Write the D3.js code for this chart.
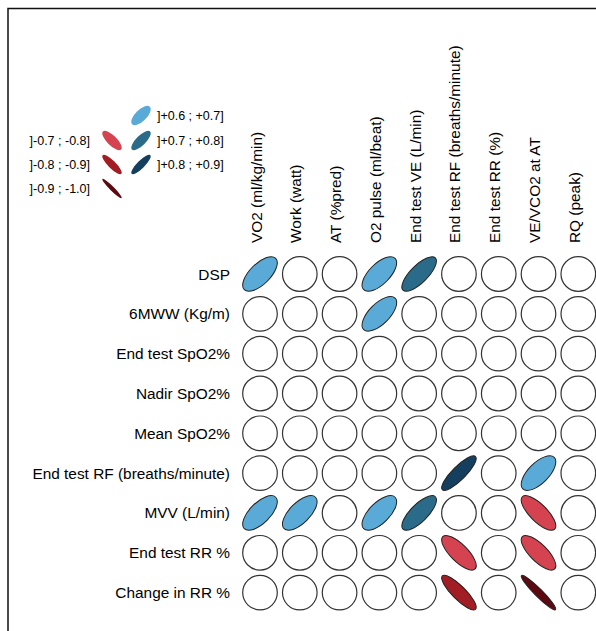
<!DOCTYPE html>
<html lang="en">
<head>
    <meta charset="UTF-8">
    <title>Correlation ellipse matrix</title>
    <script src="https://cdnjs.cloudflare.com/ajax/libs/d3/7.8.5/d3.min.js"></script>
    <style>
        body {
            margin: 0;
            background: #fff;
            font-family: "Liberation Sans", Arial, sans-serif;
        }
        .lab { font-size: 15.4px; fill: #000; }
        .leg { font-size: 12.5px; fill: #000; }
    </style>
</head>
<body>
    <div id="chart"></div>

    <script>
        // Row and column variables
        const rows = ["DSP", "6MWW (Kg/m)", "End test SpO2%", "Nadir SpO2%", "Mean SpO2%",
            "End test RF (breaths/minute)", "MVV (L/min)", "End test RR %", "Change in RR %"];
        const cols = ["VO2 (ml/kg/min)", "Work (watt)", "AT (%pred)", "O2 pulse (ml/beat)",
            "End test VE (L/min)", "End test RF (breaths/minute)", "End test RR (%)",
            "VE/VCO2 at AT", "RQ (peak)"];

        // Correlations shown (0 = blank circle)
        const values = [
            [0.65, 0, 0, 0.65, 0.75, 0, 0, 0, 0],
            [0, 0, 0, 0.65, 0, 0, 0, 0, 0],
            [0, 0, 0, 0, 0, 0, 0, 0, 0],
            [0, 0, 0, 0, 0, 0, 0, 0, 0],
            [0, 0, 0, 0, 0, 0, 0, 0, 0],
            [0, 0, 0, 0, 0, 0.85, 0, 0.65, 0],
            [0.65, 0.65, 0, 0.65, 0.75, 0, 0, -0.75, 0],
            [0, 0, 0, 0, 0, -0.75, 0, -0.75, 0],
            [0, 0, 0, 0, 0, -0.85, 0, -0.95, 0]
        ];

        // Legend bins
        const binLabels = ["]-0.9 ; -1.0]", "]-0.8 ; -0.9]", "]-0.7 ; -0.8]",
            "]+0.6 ; +0.7]", "]+0.7 ; +0.8]", "]+0.8 ; +0.9]"];
        const binValues = [-0.95, -0.85, -0.75, 0.65, 0.75, 0.85];
        const binColors = ["#5c0a10", "#a31d24", "#d4434f", "#5aaad7", "#2a6b89", "#153f5f"];

        const width = 596, height = 631;
        const svg = d3.select("#chart").append("svg")
            .attr("width", width)
            .attr("height", height);

        // frame
        svg.append("rect")
            .attr("x", 8).attr("y", 8.5)
            .attr("width", 700).attr("height", 700)
            .attr("fill", "none")
            .attr("stroke", "#111")
            .attr("stroke-width", 1.5);

        const x = d3.scalePoint().domain(cols).range([260, 578.3]);
        const y = d3.scalePoint().domain(rows).range([274, 592.6]);
        const R = 17.3;

        const color = d3.scaleThreshold()
            .domain([-0.9, -0.8, 0, 0.7, 0.8])
            .range(binColors);

        // row labels
        svg.append("g").selectAll("text")
            .data(rows)
            .join("text")
            .attr("class", "lab")
            .attr("x", 230)
            .attr("y", d => y(d))
            .attr("dy", "0.36em")
            .attr("text-anchor", "end")
            .text(d => d);

        // column labels
        svg.append("g").selectAll("text")
            .data(cols)
            .join("text")
            .attr("class", "lab")
            .attr("transform", d => `translate(${x(d) + 1.5},243) rotate(-90)`)
            .attr("text-anchor", "start")
            .text(d => d);

        // cells
        const cells = [];
        values.forEach((row, i) => row.forEach((v, j) => cells.push({ r: rows[i], c: cols[j], v })));

        const g = svg.append("g");
        g.selectAll("circle")
            .data(cells.filter(d => d.v === 0))
            .join("circle")
            .attr("cx", d => x(d.c))
            .attr("cy", d => y(d.r))
            .attr("r", R)
            .attr("fill", "#fff")
            .attr("stroke", "#333")
            .attr("stroke-width", 1.2);

        function ellipse(sel, rad) {
            sel.attr("rx", d => rad * Math.sqrt(1 + Math.abs(d.v)))
                .attr("ry", d => rad * Math.sqrt(1 - Math.abs(d.v)))
                .attr("fill", d => color(d.v));
        }

        g.selectAll("ellipse")
            .data(cells.filter(d => d.v !== 0))
            .join("ellipse")
            .attr("transform", d => `translate(${x(d.c)},${y(d.r)}) rotate(${d.v > 0 ? -45 : 45})`)
            .call(ellipse, R)
            .attr("stroke", "#222")
            .attr("stroke-width", 1);

        // legend
        const legPos = [
            { cx: 112, cy: 188.5, side: "left" },
            { cx: 112, cy: 164.5, side: "left" },
            { cx: 112, cy: 140.5, side: "left" },
            { cx: 141, cy: 115.5, side: "right" },
            { cx: 141, cy: 140.5, side: "right" },
            { cx: 141, cy: 164.5, side: "right" }
        ];
        const legData = binValues.map((v, i) => ({ v, label: binLabels[i], ...legPos[i] }));
        const leg = svg.append("g");
        leg.selectAll("ellipse")
            .data(legData)
            .join("ellipse")
            .attr("transform", d => `translate(${d.cx},${d.cy}) rotate(${d.v > 0 ? -45 : 45})`)
            .call(ellipse, 9.7);

        leg.selectAll("text")
            .data(legData)
            .join("text")
            .attr("class", "leg")
            .attr("x", d => d.side === "left" ? 90 : 157)
            .attr("y", d => d.cy)
            .attr("dy", "0.36em")
            .attr("text-anchor", d => d.side === "left" ? "end" : "start")
            .text(d => d.label);
    </script>
</body>
</html>
